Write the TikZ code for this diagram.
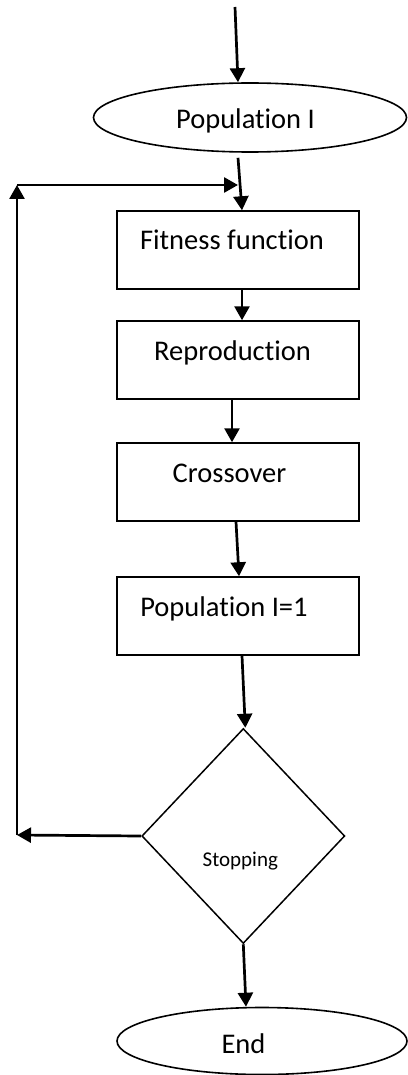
\documentclass[tikz,border=0pt]{standalone}
\usepackage{fontspec}
\setmainfont{Carlito}[RawFeature=-liga]
\usetikzlibrary{shapes.geometric,arrows.meta}
\begin{document}
\begin{tikzpicture}[x=1pt,y=-1pt,
  boxst/.style={draw,line width=1.5pt,rectangle,minimum width=242pt,minimum height=78pt,inner sep=0pt,
    text height=20pt,text depth=20pt,font=\fontsize{28.5}{34}\selectfont},
  ellst/.style={draw,line width=1.6pt,ellipse,inner sep=0pt,font=\fontsize{28.5}{34}\selectfont},
  decst/.style={draw,line width=1.5pt,diamond,minimum width=203pt,minimum height=215pt,inner sep=0pt,
    font=\fontsize{21}{25}\selectfont},
  arr/.style={line width=2.7pt,-{Triangle[length=14pt,width=15pt]}}]
\useasboundingbox (0,0) rectangle (407,1075);
\coordinate (start) at (235,7);
\node[ellst,minimum width=313pt,minimum height=69pt,text height=23pt,text depth=0pt] (pop) at (250,117.5) {Population I\hspace*{9pt}};
\node[boxst] (fit) at (238,250) {Fitness function\hspace*{12pt}};
\node[boxst] (rep) at (238,360) {Reproduction\hspace*{11pt}};
\node[boxst] (cro) at (238,482) {Crossover\hspace*{17pt}};
\node[boxst] (pop1) at (238,616) {Population I=1\hspace*{28pt}};
\node[decst,text height=61pt,text depth=0pt] (stop) at (243.3,836) {Stopping\hspace*{6pt}};
\node[ellst,minimum width=290pt,minimum height=67pt,text height=24pt,text depth=0pt] (end) at (262,1041) {End\hspace*{37pt}};
\coordinate (fbL) at (17,835);
\coordinate (fbT) at (17,185);
\coordinate (fbR) at (238,185);
\draw[arr] (start) -- ([xshift=-12pt]pop.north);
\draw[arr] ([xshift=-12pt,yshift=-5pt]pop.south) -- ([xshift=4pt]fit.north);
\draw[arr] ([xshift=4pt]fit.south) -- ([xshift=4pt]rep.north);
\draw[arr] ([xshift=-6pt]rep.south) -- ([xshift=-6pt]cro.north);
\draw[arr] ([xshift=-2pt]cro.south) -- ([xshift=1pt]pop1.north);
\draw[arr] ([xshift=4pt]pop1.south) -- ([xshift=2pt]stop.north);
\draw[arr] (stop.south) -- ([xshift=-16pt]end.north);
\draw[arr] (stop.west) -- (fbL);
\draw[arr] (fbL) -- (fbT);
\draw[arr] (fbT) -- (fbR);
\end{tikzpicture}
\end{document}
